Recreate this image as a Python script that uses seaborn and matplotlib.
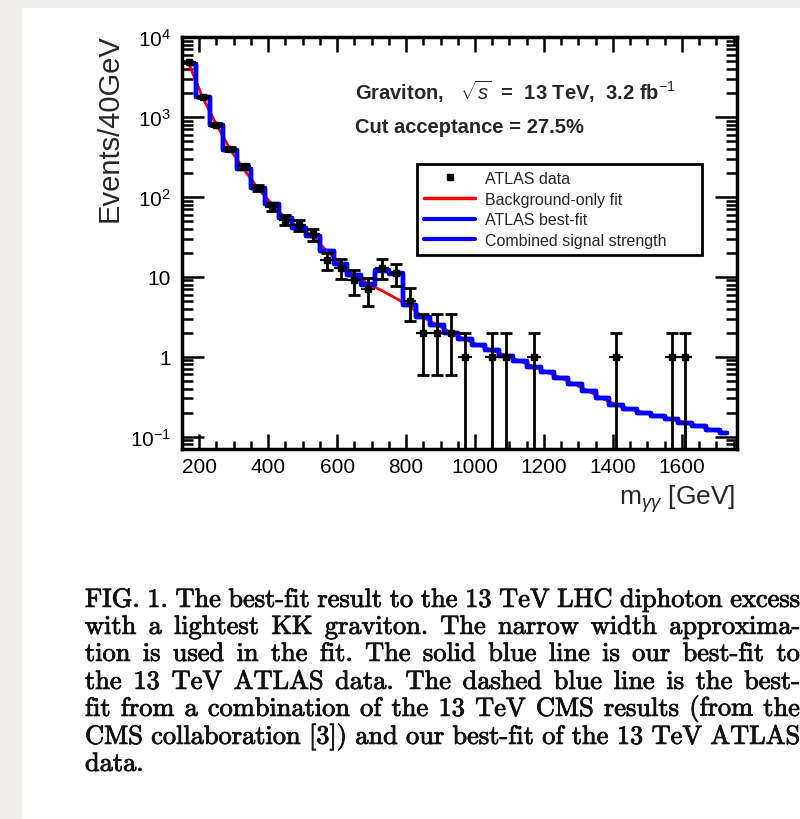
import numpy as np
import pandas as pd
import matplotlib
matplotlib.use("Agg")
import matplotlib.pyplot as plt
import matplotlib.patheffects as pe
import seaborn as sns
from matplotlib.ticker import FixedLocator, MultipleLocator, LogLocator, NullFormatter
from matplotlib.lines import Line2D
from matplotlib.patches import Rectangle

# ---- data: 40 GeV bins in diphoton invariant mass -------------------------
mass_centres = [170, 210, 250, 290, 330, 370, 410, 450, 490, 530,
                570, 610, 650, 690, 730, 770, 810, 850, 890, 930,
                970, 1010, 1050, 1090, 1130, 1170, 1210, 1250, 1290, 1330,
                1370, 1410, 1450, 1490, 1530, 1570, 1610, 1650, 1690, 1730]
bin_half_width = 20

atlas_counts = [4800, 1780, 800, 400, 240, 130, 75, 52, 44, 34,
                16, 13, 9, 7, 13, 11, 5, 2, 2, 2,
                1, 0, 1, 1, 0, 1, 0, 0, 0, 0,
                0, 1, 0, 0, 0, 1, 1, 0, 0, 0]

background_fit = [4600, 1750, 800, 390, 220, 128, 82, 54, 41, 32,
                  21, 14.5, 10.5, 8.2, 6.7, 5.4, 4.3, 3.1, 2.5, 2.0,
                  1.65, 1.4, 1.2, 1.03, 0.88, 0.75, 0.64, 0.54, 0.45, 0.37,
                  0.3, 0.25, 0.22, 0.2, 0.18, 0.165, 0.15, 0.135, 0.122, 0.11]

atlas_best_fit = [4600, 1750, 800, 390, 220, 128, 82, 54, 41, 32,
                  21, 14.5, 10.5, 8.0, 12.3, 11.2, 4.4, 3.1, 2.5, 2.0,
                  1.65, 1.4, 1.2, 1.03, 0.88, 0.75, 0.64, 0.54, 0.45, 0.37,
                  0.3, 0.25, 0.22, 0.2, 0.18, 0.165, 0.15, 0.135, 0.122, 0.11]

combined_fit = [4600, 1750, 800, 390, 220, 128, 82, 54, 41, 32,
                21, 14.5, 10.5, 8.1, 11.8, 10.8, 4.4, 3.1, 2.5, 2.0,
                1.65, 1.4, 1.2, 1.03, 0.88, 0.75, 0.64, 0.54, 0.45, 0.37,
                0.3, 0.25, 0.22, 0.2, 0.18, 0.165, 0.15, 0.135, 0.122, 0.11]

x_ticks = [200, 400, 600, 800, 1000, 1200, 1400, 1600]
y_ticks = [0.1, 1, 10, 100, 1000, 10000]
y_tick_labels = [r"$10^{-1}$", "1", "10", r"$10^{2}$", r"$10^{3}$", r"$10^{4}$"]

legend_labels = ["ATLAS data", "Background-only fit", "ATLAS best-fit",
                 "Combined signal strength"]

caption_lines = [
    "FIG. 1. The best-fit result to the 13 TeV LHC diphoton excess",
    "with a lightest KK graviton. The narrow width approxima-",
    "tion is used in the fit. The solid blue line is our best-fit to",
    "the 13 TeV ATLAS data. The dashed blue line is the best-",
    "fit from a combination of the 13 TeV CMS results (from the",
    "CMS collaboration [3]) and our best-fit of the 13 TeV ATLAS",
    "data.",
]

df = pd.DataFrame({"m": mass_centres, "n": atlas_counts, "bkg": background_fit,
                   "fit": atlas_best_fit, "comb": combined_fit})

# ---- style -----------------------------------------------------------------
sns.set_style("ticks")
plt.rcParams["font.family"] = ["Liberation Sans", "DejaVu Sans"]
plt.rcParams["mathtext.fontset"] = "custom"
plt.rcParams["mathtext.rm"] = "Liberation Sans"
plt.rcParams["mathtext.it"] = "Liberation Sans:italic"
plt.rcParams["mathtext.bf"] = "Liberation Sans:bold"

W, H = 800, 820
fig = plt.figure(figsize=(W / 100, H / 100), dpi=100, facecolor="#efede9")
fig.patches.append(Rectangle((22 / W, 0), 1, 1 - 9 / H, transform=fig.transFigure,
                             facecolor="white", edgecolor="none", zorder=-10))

ax = fig.add_axes([182 / W, 1 - 450 / H, 555 / W, 412 / H])
ax.set_zorder(5)
ax.set_facecolor("white")
ax.set_yscale("log")

# fit curves
sns.lineplot(data=df, x="m", y="bkg", color="red", lw=2, ax=ax, zorder=2)
sns.lineplot(data=df, x="m", y="comb", color="blue", lw=3.2,
             drawstyle="steps-mid", ax=ax, zorder=3)
sns.lineplot(data=df, x="m", y="fit", color="blue", lw=3.2,
             drawstyle="steps-mid", ax=ax, zorder=3)

# observed events: bin width and statistical errors
obs = df[df["n"] > 0]
ax.errorbar(obs["m"], obs["n"], xerr=bin_half_width, fmt="none",
            ecolor="black", elinewidth=1.6, zorder=4)
ax.errorbar(obs["m"], obs["n"], yerr=np.sqrt(obs["n"]), fmt="s", ms=5,
            color="black", ecolor="black", elinewidth=2, capsize=4.5,
            capthick=2, zorder=4)

ax.set_xlim(150, 1760)
ax.set_ylim(0.07, 1e4)
ax.xaxis.set_major_locator(FixedLocator(x_ticks))
ax.xaxis.set_minor_locator(MultipleLocator(50))
ax.set_yticks(y_ticks, y_tick_labels)
ax.yaxis.set_minor_locator(LogLocator(base=10, subs=np.arange(2, 10) * 1.0, numticks=20))
ax.yaxis.set_minor_formatter(NullFormatter())
ax.tick_params(which="both", direction="in", top=True, right=True, width=1.8,
               color="black", labelcolor="black")
ax.tick_params(axis="x", which="major", length=11, labelsize=15, pad=6)
ax.tick_params(axis="x", which="minor", length=6)
ax.tick_params(axis="y", which="major", length=16, labelsize=15, pad=8)
ax.tick_params(axis="y", which="minor", length=8)
for s in ax.spines.values():
    s.set_linewidth(2.5)
    s.set_color("black")

ax.set_ylabel("Events/40GeV", fontsize=21, loc="top")
ax.yaxis.set_label_coords(-0.105, 1.01)
ax.set_xlabel(r"m$_{\gamma\gamma}$ [GeV]", fontsize=19, loc="right")
ax.xaxis.set_label_coords(0.997, -0.08)

ax.text(0.312, 0.869, r"Graviton,   $\sqrt{s}$  =  13 TeV,  3.2 fb$^{-1}$",
        transform=ax.transAxes, fontsize=14.5, fontweight="bold", va="center")
ax.text(0.312, 0.782, "Cut acceptance = 27.5%", transform=ax.transAxes,
        fontsize=14.5, fontweight="bold", va="center")

handles = [Line2D([], [], marker="s", ms=4, color="black", ls="none"),
           Line2D([], [], color="red", lw=2.5),
           Line2D([], [], color="blue", lw=3),
           Line2D([], [], color="blue", lw=3)]
leg = ax.legend(handles, legend_labels, loc="upper left",
                bbox_to_anchor=(0.423, 0.692, 0.514, 0.0), mode="expand",
                fontsize=11.5, frameon=True, fancybox=False, framealpha=1,
                edgecolor="black", labelspacing=0.35, handlelength=3.2,
                handletextpad=0.6, borderpad=0.45, borderaxespad=0)
leg.get_frame().set_linewidth(2)

# ---- justified caption -----------------------------------------------------
fig.canvas.draw()
renderer = fig.canvas.get_renderer()
cap_kw = dict(family="cmr10", fontsize=19, color="#111111", va="center", ha="left",
              path_effects=[pe.withStroke(linewidth=0.6, foreground="#111111")])
x0, x1 = 85, 800
line_y = [601, 628, 655, 683, 710, 738, 765]
probe = fig.text(0, 0, "a a", **cap_kw)
pw = probe.get_window_extent(renderer).width
probe2 = fig.text(0, 0, "aa", **cap_kw)
space_w = pw - probe2.get_window_extent(renderer).width
probe.remove(); probe2.remove()
for i, line in enumerate(caption_lines):
    words = line.split()
    arts = [fig.text(0, 1 - line_y[i] / H, w, **cap_kw) for w in words]
    widths = [a.get_window_extent(renderer).width for a in arts]
    if i == len(caption_lines) - 1 or len(words) == 1:
        gap = space_w
    else:
        gap = max((x1 - x0 - sum(widths)) / (len(words) - 1), space_w * 0.7)
    x = x0
    for a, w in zip(arts, widths):
        a.set_x(x / W)
        x += w + gap

fig.savefig("out.png", dpi=100, facecolor=fig.get_facecolor())
